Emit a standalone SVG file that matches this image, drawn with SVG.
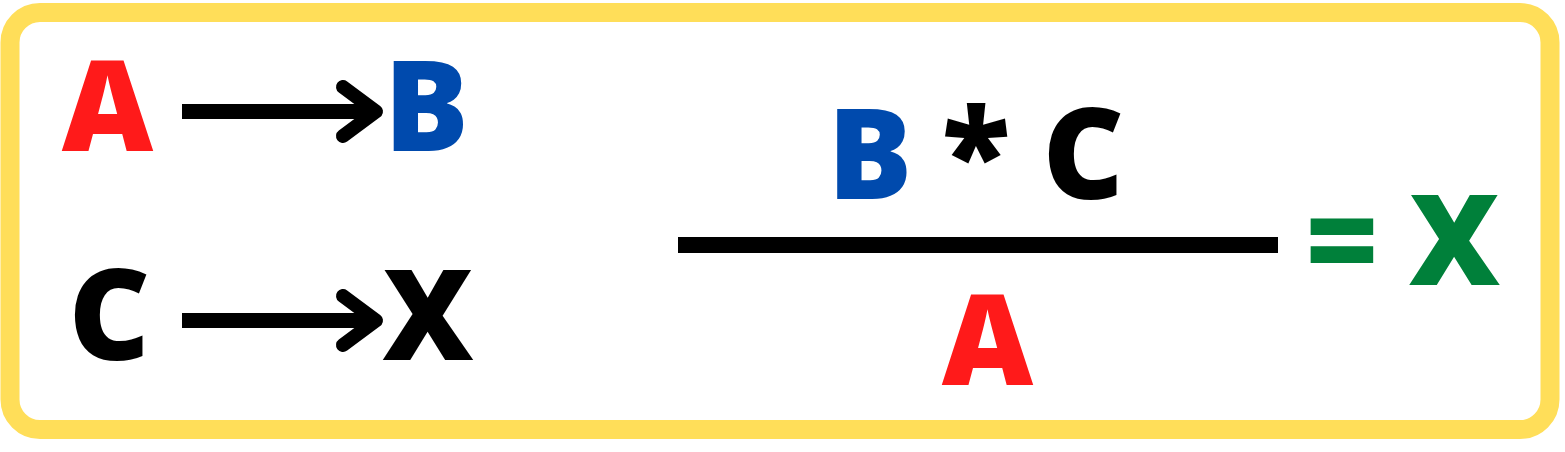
<svg xmlns="http://www.w3.org/2000/svg" width="1565" height="452" viewBox="0 0 1565 452">
<style>
.t{font-family:"Open Sans","DejaVu Sans",sans-serif;font-weight:800;font-size:126px;text-anchor:middle}
.red{fill:#FF1A1A}.blue{fill:#004AAD}.blk{fill:#000}.grn{fill:#00803A}
.ln{stroke:#000;fill:none}
</style>
<rect x="10" y="12.5" width="1540" height="417" rx="30" fill="#fff" stroke="#FFDE59" stroke-width="19"/>
<g id="node-A"><text class="t red" x="107.5" y="151">A</text></g>
<g id="node-B"><text class="t blue" x="426.5" y="151">B</text></g>
<g id="node-C"><text class="t blk" x="109.5" y="360">C</text></g>
<g id="node-X"><text class="t blk" x="428" y="360">X</text></g>
<g id="connectors">
<line class="ln" x1="182" y1="111.5" x2="372" y2="111.5" stroke-width="15"/>
<polyline class="ln" points="343,87 376,111.5 343,136" stroke-width="14" stroke-linecap="round" stroke-linejoin="round"/>
<line class="ln" x1="182" y1="320.5" x2="372" y2="320.5" stroke-width="15"/>
<polyline class="ln" points="343,296 376,320.5 343,345" stroke-width="14" stroke-linecap="round" stroke-linejoin="round"/>
</g>
<g id="formula">
<text class="t blue" x="870" y="199">B</text>
<text class="t blk" x="976" y="199">*</text>
<text class="t blk" x="1083.5" y="199">C</text>
<rect x="678" y="237" width="600" height="16" fill="#000"/>
<text class="t red" x="987.5" y="385">A</text>
<text class="t grn" x="1342" y="285">=</text>
<text class="t grn" x="1454.5" y="285">X</text>
</g>
</svg>
